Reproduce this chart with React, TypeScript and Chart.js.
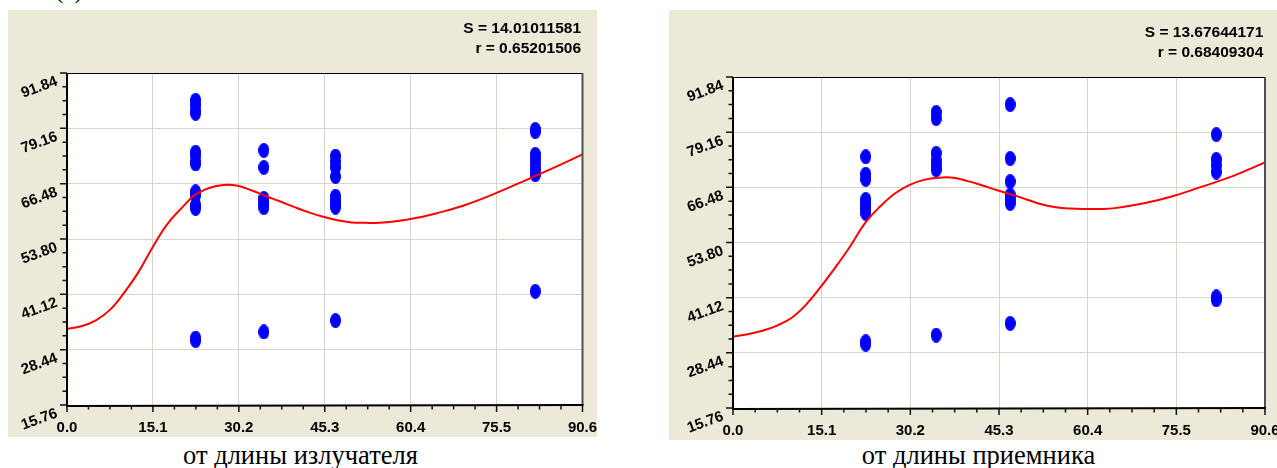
import React, { useEffect, useRef } from 'react';
import { Chart, registerables } from 'chart.js';

Chart.register(...registerables);

// ---- axis ticks ----
const X_TICKS = [0, 15.1, 30.2, 45.3, 60.4, 75.5, 90.6];
const Y_TICKS = [15.76, 28.44, 41.12, 53.8, 66.48, 79.16, 91.84];

// ---- measurement columns (x positions) ----
const COLUMN_X = [22.6, 34.6, 47.2, 82.3];

// ---- emitter (left chart) measured values ----
const emitterCol1 = [85.6, 84.6, 83.3, 82.6, 73.7, 72.8, 71.4, 71.0, 64.6, 63.8, 61.6, 60.8, 31.1, 30.5];
const emitterCol2 = [74.1, 70.2, 63.1, 62.2, 61.0, 32.5];
const emitterCol3 = [72.8, 71.5, 70.2, 68.1, 63.6, 62.6, 61.8, 61.1, 35.1];
const emitterCol4 = [78.9, 78.4, 73.2, 72.0, 70.8, 69.6, 68.5, 41.8];

// ---- receiver (right chart) measured values ----
const receiverCol1 = [73.5, 69.5, 68.3, 63.7, 62.6, 61.6, 60.5, 31.0, 30.4];
const receiverCol2 = [83.7, 82.3, 74.3, 72.6, 71.4, 70.5, 32.5];
const receiverCol3 = [85.5, 73.1, 67.8, 64.7, 63.7, 62.8, 35.2];
const receiverCol4 = [78.6, 72.9, 71.5, 70.0, 41.3, 40.6];

// ---- fitted curves ----
const CURVE_X = [0, 2.5, 5, 7.5, 10, 12.5, 15, 17.5, 20, 22.5, 25, 27.5, 30, 32.5, 35, 37.5, 40, 42.5, 45, 47.5, 50, 52.5, 55, 57.5, 60, 62.5, 65, 70, 75, 80, 85, 90.6];
const emitterCurve = [33.2, 33.8, 35.1, 37.5, 41.4, 46.1, 51.8, 57.0, 60.7, 63.9, 65.5, 66.2, 66.0, 64.9, 63.6, 62.4, 61.1, 59.9, 58.9, 58.1, 57.6, 57.5, 57.5, 57.8, 58.3, 58.9, 59.7, 61.6, 64.1, 66.9, 69.8, 73.2];
const receiverCurve = [32.2, 32.7, 33.5, 34.7, 36.5, 39.6, 43.7, 48.2, 53.0, 58.3, 62.0, 65.0, 67.0, 68.2, 68.7, 68.7, 67.9, 66.9, 65.8, 64.8, 63.7, 62.6, 61.9, 61.6, 61.5, 61.5, 61.7, 62.8, 64.5, 66.7, 69.0, 72.2];

// ---- texts ----
const emitterStats = ['S = 14.01011581', 'r = 0.65201506'];
const receiverStats = ['S = 13.67644171', 'r = 0.68409304'];
const emitterCaption = 'от длины излучателя';
const receiverCaption = 'от длины приемника';

const BEIGE = '#ECE9D8';
const GRID = '#D8D5CC';
const SANS = '"Liberation Sans", Arial, sans-serif';
const SERIF = '"Liberation Serif", "Times New Roman", serif';

function toPoints(cols: number[][]) {
  const out: { x: number; y: number }[] = [];
  cols.forEach((col, i) => col.forEach((y) => out.push({ x: COLUMN_X[i], y })));
  return out;
}
function toCurve(ys: number[]) {
  return CURVE_X.map((x, i) => ({ x, y: ys[i] }));
}

function makeEllipse(w: number, h: number, color: string) {
  const c = document.createElement('canvas');
  c.width = w;
  c.height = h;
  const g = c.getContext('2d')!;
  g.fillStyle = color;
  g.beginPath();
  g.ellipse(w / 2, h / 2, w / 2, h / 2, 0, 0, Math.PI * 2);
  g.fill();
  return c;
}

type PanelProps = {
  left: number;
  top: number;
  width: number;
  height: number;
  plot: { l: number; t: number; r: number; b: number };
  points: { x: number; y: number }[];
  curve: { x: number; y: number }[];
  stats: string[];
  statsX: number;
  statsY: number[];
};

function Panel(p: PanelProps) {
  const ref = useRef<HTMLCanvasElement | null>(null);
  useEffect(() => {
    const canvas = ref.current!;
    const dot = makeEllipse(11, 15, '#0000FF');
    const plugin = {
      id: 'frameDecor',
      beforeDraw(chart: any) {
        const { ctx, chartArea: a, width, height } = chart;
        ctx.save();
        ctx.fillStyle = BEIGE;
        ctx.fillRect(0, 0, width, height);
        ctx.fillStyle = '#FFFFFF';
        ctx.fillRect(a.left, a.top, a.right - a.left, a.bottom - a.top);
        ctx.restore();
      },
      afterDraw(chart: any) {
        const { ctx, chartArea: a } = chart;
        const xs = chart.scales.x;
        const ys = chart.scales.y;
        ctx.save();
        // frame
        ctx.strokeStyle = '#000';
        ctx.lineWidth = 1;
        ctx.beginPath();
        ctx.moveTo(a.left, a.top + 0.5);
        ctx.lineTo(a.right, a.top + 0.5);
        ctx.stroke();
        ctx.strokeStyle = '#505050';
        ctx.lineWidth = 2;
        ctx.beginPath();
        ctx.moveTo(a.right, a.top);
        ctx.lineTo(a.right, a.bottom);
        ctx.stroke();
        ctx.strokeStyle = '#000';
        ctx.lineWidth = 2;
        ctx.beginPath();
        ctx.moveTo(a.left, a.top);
        ctx.lineTo(a.left, a.bottom + 1);
        ctx.lineTo(a.right + 1, a.bottom);
        ctx.stroke();
        // ticks
        ctx.lineWidth = 1.5;
        ctx.strokeStyle = '#111';
        ctx.beginPath();
        for (let i = 0; i < Y_TICKS.length; i++) {
          const y = ys.getPixelForValue(Y_TICKS[i]);
          ctx.moveTo(a.left - 7, y);
          ctx.lineTo(a.left, y);
          if (i < Y_TICKS.length - 1) {
            const step = (Y_TICKS[i + 1] - Y_TICKS[i]) / 4;
            for (let k = 1; k < 4; k++) {
              const ym = ys.getPixelForValue(Y_TICKS[i] + step * k);
              ctx.moveTo(a.left - 4.5, ym);
              ctx.lineTo(a.left, ym);
            }
          }
        }
        for (let i = 0; i < X_TICKS.length; i++) {
          const x = xs.getPixelForValue(X_TICKS[i]);
          ctx.moveTo(x, a.bottom);
          ctx.lineTo(x, a.bottom + 7);
          if (i < X_TICKS.length - 1) {
            const step = (X_TICKS[i + 1] - X_TICKS[i]) / 4;
            for (let k = 1; k < 4; k++) {
              const xm = xs.getPixelForValue(X_TICKS[i] + step * k);
              ctx.moveTo(xm, a.bottom);
              ctx.lineTo(xm, a.bottom + 4.5);
            }
          }
        }
        ctx.stroke();
        // labels
        ctx.fillStyle = '#000';
        ctx.font = `bold 15px ${SANS}`;
        ctx.textAlign = 'right';
        ctx.textBaseline = 'middle';
        for (const v of Y_TICKS) {
          const y = ys.getPixelForValue(v);
          ctx.save();
          ctx.translate(a.left - 10, y + 8);
          ctx.rotate((-20 * Math.PI) / 180);
          ctx.fillText(v.toFixed(2), 0, 0);
          ctx.restore();
        }
        ctx.textAlign = 'center';
        for (const v of X_TICKS) {
          const x = xs.getPixelForValue(v);
          ctx.fillText(v.toFixed(1), x, a.bottom + 23);
        }
        // stats
        ctx.font = `bold 15.5px ${SANS}`;
        ctx.textAlign = 'right';
        ctx.textBaseline = 'alphabetic';
        p.stats.forEach((s, i) => ctx.fillText(s, p.statsX, p.statsY[i]));
        ctx.restore();
      },
    };

    const chart = new Chart(canvas, {
      type: 'scatter',
      data: {
        datasets: [
          {
            type: 'line',
            data: p.curve,
            borderColor: '#FF0000',
            borderWidth: 2,
            pointRadius: 0,
            tension: 0.4,
            fill: false,
          } as any,
          {
            type: 'scatter',
            data: p.points,
            pointStyle: dot as any,
            pointRadius: 6,
            backgroundColor: '#0000FF',
            borderWidth: 0,
          } as any,
        ],
      },
      options: {
        animation: false,
        responsive: false,
        devicePixelRatio: 1,
        events: [],
        layout: {
          autoPadding: false,
          padding: { left: 0, top: p.plot.t, right: p.width - p.plot.r, bottom: 0 },
        } as any,
        plugins: { legend: { display: false }, tooltip: { enabled: false } },
        scales: {
          x: {
            type: 'linear',
            min: X_TICKS[0],
            max: X_TICKS[X_TICKS.length - 1],
            afterBuildTicks: (s: any) => {
              s.ticks = X_TICKS.map((v) => ({ value: v }));
            },
            ticks: { display: false },
            grid: { color: GRID, lineWidth: 1, drawTicks: false },
            border: { display: false },
            afterFit: (s: any) => {
              s.height = p.height - p.plot.b;
              s.paddingLeft = 0;
              s.paddingRight = 0;
            },
          },
          y: {
            type: 'linear',
            min: Y_TICKS[0],
            max: Y_TICKS[Y_TICKS.length - 1],
            afterBuildTicks: (s: any) => {
              s.ticks = Y_TICKS.map((v) => ({ value: v }));
            },
            ticks: { display: false },
            grid: { color: GRID, lineWidth: 1, drawTicks: false },
            border: { display: false },
            afterFit: (s: any) => {
              s.width = p.plot.l;
              s.paddingTop = 0;
              s.paddingBottom = 0;
            },
          },
        },
      },
      plugins: [plugin],
    } as any);
    return () => chart.destroy();
  }, []);
  return (
    <canvas
      ref={ref}
      width={p.width}
      height={p.height}
      style={{ position: 'absolute', left: p.left, top: p.top, width: p.width, height: p.height }}
    />
  );
}

const captionStyle = (center: number): React.CSSProperties => ({
  position: 'absolute',
  left: center - 200,
  width: 400,
  top: 442,
  textAlign: 'center',
  fontFamily: SERIF,
  fontSize: 26.5,
  lineHeight: '26.5px',
  color: '#000',
  whiteSpace: 'nowrap',
});

export default function App() {
  return (
    <div style={{ position: 'absolute', left: 0, top: 0, width: 1277, height: 468, overflow: 'hidden', background: '#fff' }}>
      <div style={{ position: 'absolute', left: 55, top: -23, fontFamily: SERIF, fontSize: 25, lineHeight: '25px' }}>(а)</div>
      <Panel
        left={8}
        top={10}
        width={589}
        height={427}
        plot={{ l: 59, t: 63, r: 574.5, b: 395 }}
        points={toPoints([emitterCol1, emitterCol2, emitterCol3, emitterCol4])}
        curve={toCurve(emitterCurve)}
        stats={emitterStats}
        statsX={573}
        statsY={[23.3, 43.3]}
      />
      <Panel
        left={669}
        top={10}
        width={608}
        height={430}
        plot={{ l: 64, t: 67, r: 596, b: 398 }}
        points={toPoints([receiverCol1, receiverCol2, receiverCol3, receiverCol4])}
        curve={toCurve(receiverCurve)}
        stats={receiverStats}
        statsX={594.3}
        statsY={[27.3, 47.3]}
      />
      <div style={captionStyle(300.5)}>{emitterCaption}</div>
      <div style={captionStyle(978.5)}>{receiverCaption}</div>
    </div>
  );
}
